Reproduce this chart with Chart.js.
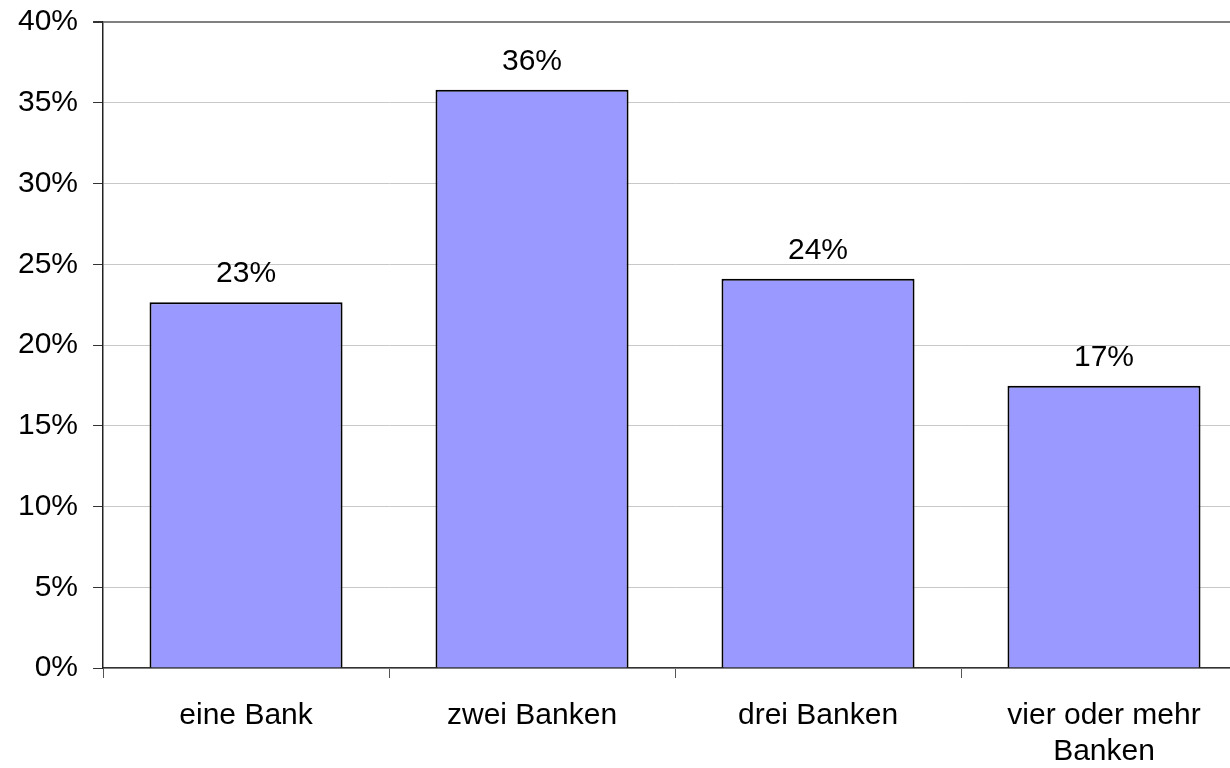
<!DOCTYPE html>
<html>
<head>
<meta charset="utf-8">
<script src="https://cdn.jsdelivr.net/npm/chart.js@4"></script>
<style>
  html, body { margin: 0; padding: 0; overflow: hidden; background: #fff; }
  #wrap { position: relative; top: -11px; width: 1250px; height: 779px; }
</style>
</head>
<body>
<div id="wrap"><canvas id="myChart"></canvas></div>
<script>
// chart data
const categories = ['eine Bank', 'zwei Banken', 'drei Banken', ['vier oder mehr', 'Banken']];
const shares = [22.65, 35.8, 24.1, 17.48];
const yTicks = [0, 5, 10, 15, 20, 25, 30, 35, 40];

// draws the percent labels above each bar
const barLabels = {
    id: 'barLabels',
    afterDatasetsDraw(chart) {
        const ctx = chart.ctx;
        ctx.save();
        ctx.font = '30px "Liberation Sans", Arial, sans-serif';
        ctx.fillStyle = '#000';
        ctx.textAlign = 'center';
        ctx.textBaseline = 'alphabetic';
        chart.getDatasetMeta(0).data.forEach(function (bar, i) {
            ctx.fillText(Math.round(shares[i]) + '%', bar.x, bar.y - 20);
        });
        ctx.restore();
    }
};

function initializeChart() {
    const ctx = document.getElementById('myChart').getContext('2d');
    Chart.defaults.font.family = '"Liberation Sans", Arial, sans-serif';
    Chart.defaults.font.size = 30;
    Chart.defaults.color = '#000';
    new Chart(ctx, {
        type: 'bar',
        data: {
            labels: categories,
            datasets: [{
                data: shares,
                backgroundColor: '#9999ff',
                borderColor: '#000',
                borderWidth: 2,
                categoryPercentage: 1,
                barPercentage: 0.675
            }]
        },
        options: {
            responsive: true,
            maintainAspectRatio: false,
            animation: false,
            layout: { padding: { top: 0, right: 3, left: 3, bottom: -22 } },
            plugins: {
                legend: { display: false },
                tooltip: { enabled: false }
            },
            scales: {
                x: {
                    border: { color: '#333', width: 1.5 },
                    grid: {
                        drawOnChartArea: false,
                        tickLength: 10,
                        tickColor: '#555',
                        offset: true
                    },
                    ticks: { padding: 20, maxRotation: 0 }
                },
                y: {
                    min: 0,
                    max: 40,
                    afterBuildTicks: function (axis) {
                        axis.ticks = yTicks.map(function (v) { return { value: v }; });
                    },
                    border: { color: '#222', width: 1.5 },
                    grid: {
                        color: function (c) { return c.tick && c.tick.value === 40 ? '#808080' : '#c8c8c8'; },
                        lineWidth: function (c) { return c.tick && c.tick.value === 40 ? 2 : 1; },
                        tickLength: 10,
                        tickColor: '#333'
                    },
                    ticks: {
                        padding: 15,
                        callback: function (v) { return v + '%'; }
                    }
                }
            }
        },
        plugins: [barLabels]
    });
}

document.addEventListener('DOMContentLoaded', function () {
    initializeChart();
});
</script>
</body>
</html>
